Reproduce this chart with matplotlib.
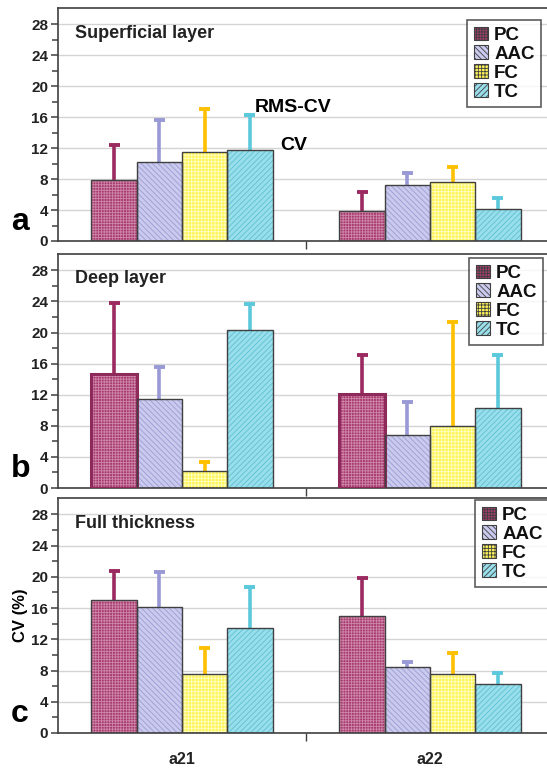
import numpy as np
import matplotlib.pyplot as plt
from matplotlib.patches import Patch
from matplotlib.ticker import FixedLocator

plt.rcParams['font.family'] = ['Liberation Sans', 'DejaVu Sans']
plt.rcParams['hatch.linewidth'] = 0.6

groups = ['a21', 'a22']
series = ['PC', 'AAC', 'FC', 'TC']

# mean CV per series, [a21, a22]
superficial_mean = {'PC': [7.9, 3.9], 'AAC': [10.2, 7.2], 'FC': [11.5, 7.6], 'TC': [11.7, 4.1]}
superficial_err = {'PC': [4.5, 2.4], 'AAC': [5.4, 1.6], 'FC': [5.5, 1.9], 'TC': [4.6, 1.4]}
deep_mean = {'PC': [14.7, 12.1], 'AAC': [11.4, 6.8], 'FC': [2.2, 8.0], 'TC': [20.3, 10.3]}
deep_err = {'PC': [9.1, 5.0], 'AAC': [4.2, 4.2], 'FC': [1.1, 13.3], 'TC': [3.4, 6.8]}
full_mean = {'PC': [17.0, 15.0], 'AAC': [16.2, 8.5], 'FC': [7.5, 7.6], 'TC': [13.4, 6.3]}
full_err = {'PC': [3.8, 4.9], 'AAC': [4.4, 0.6], 'FC': [3.4, 2.6], 'TC': [5.3, 1.4]}

panels = [
    ('a', 'Superficial layer', superficial_mean, superficial_err),
    ('b', 'Deep layer', deep_mean, deep_err),
    ('c', 'Full thickness', full_mean, full_err),
]

face = {'PC': '#A63C6E', 'AAC': '#CACAEE', 'FC': '#FFF45A', 'TC': '#98DFEB'}
hatch_col = {'PC': '#CF86AA', 'AAC': '#9C9CD4', 'FC': '#FFFFC4', 'TC': '#5EBFD6'}
hatches = {'PC': '++++++', 'AAC': '\\\\\\\\\\\\', 'FC': '+++++', 'TC': '//////'}
err_col = {'PC': '#9B2A60', 'AAC': '#9999D6', 'FC': '#FFC000', 'TC': '#5CC8DC'}
edge = '#404040'

W, H = 547, 769
fig = plt.figure(figsize=(W / 100, H / 100), dpi=100)

# axes boxes in pixels: (top, bottom)
boxes = [(8, 241), (254, 488), (498, 733)]
legend_boxes = [(467, 20), (469, 258), (475, 500)]
left_px = 58
unit_px = 248
x = np.arange(len(groups))
bw = 0.1825
cap = 0.022

for i, ((tag, title, means, errs), (top, bot)) in enumerate(zip(panels, boxes)):
    ax = fig.add_axes([left_px / W, 1 - bot / H, (W - left_px) / W, (bot - top) / H])
    ax.set_ylim(0, 30.1)
    ax.set_xlim(-0.5, (W - left_px) / unit_px - 0.5)
    ax.yaxis.set_major_locator(FixedLocator(np.arange(0, 29, 4)))
    ax.yaxis.set_minor_locator(FixedLocator(np.arange(0, 29, 2)))
    ax.grid(axis='y', color='#D4D4D4', linewidth=1)
    ax.set_axisbelow(True)
    for s in ['left', 'top', 'bottom']:
        ax.spines[s].set_color(edge)
        ax.spines[s].set_linewidth(1.2)
    ax.spines['right'].set_visible(False)
    ax.tick_params(axis='y', which='major', length=5, width=1.1, color=edge,
                   labelsize=11, pad=2)
    ax.tick_params(axis='y', which='minor', length=4, width=1.1, color=edge)
    for lab in ax.get_yticklabels():
        lab.set_fontweight('bold')
        lab.set_color('#222222')

    for k, s in enumerate(series):
        pos = x + (k - 1.5) * bw
        m = np.array(means[s])
        e = np.array(errs[s])
        lw = 2.2 if (tag == 'b' and s == 'PC') else 1.0
        ec = '#8E2A5A' if (tag == 'b' and s == 'PC') else edge
        ax.bar(pos, m, bw, color=face[s], edgecolor=hatch_col[s],
               hatch=hatches[s], linewidth=0, zorder=2)
        ax.bar(pos, m, bw, fill=False, edgecolor=ec, linewidth=lw, zorder=3)
        # upper error bar only
        ax.vlines(pos, m, m + e, color=err_col[s], linewidth=2.6, zorder=1.5)
        ax.hlines(m + e, pos - cap, pos + cap, color=err_col[s], linewidth=2.8,
                  zorder=1.5)

    ax.set_xticks([0.5], minor=True)
    ax.tick_params(axis='x', which='minor', length=6, width=1, color=edge)
    ax.set_xticks(x)
    if tag == 'c':
        ax.set_xticklabels(groups, fontsize=11.5, fontweight='bold', color='#222222')
        ax.tick_params(axis='x', which='major', length=0, pad=14)
        ax.set_ylabel('CV (%)', fontsize=12, fontweight='bold', labelpad=2)
    else:
        ax.set_xticklabels([])
        ax.tick_params(axis='x', which='major', length=0)

    ax.text(75 / W, 1 - (top + 25) / H, title, transform=fig.transFigure,
            fontsize=13, fontweight='bold', color='#222222', va='center')
    ax.text(11 / W, 1 - (bot - 19) / H, tag, transform=fig.transFigure,
            fontsize=23, fontweight='bold', color='black', va='center')

    handles = [Patch(facecolor=face[s], edgecolor=edge, hatch=hatches[s], linewidth=0.8)
               for s in series]
    lx, ly = legend_boxes[i]
    leg = ax.legend(handles, series, loc='upper left',
                    bbox_to_anchor=(lx / W, 1 - ly / H), bbox_transform=fig.transFigure,
                    fontsize=13.5, frameon=True, fancybox=False, edgecolor='#333333',
                    handlelength=0.75, handleheight=0.75, handletextpad=0.35,
                    labelspacing=0.08, borderpad=0.35, borderaxespad=0)
    leg.get_frame().set_linewidth(1.2)
    for t in leg.get_texts():
        t.set_fontweight('bold')
        t.set_color('#111111')

    if tag == 'a':
        ax.text(255 / W, 1 - 107 / H, 'RMS-CV', transform=fig.transFigure,
                fontsize=14, fontweight='bold', va='center')
        ax.text(280 / W, 1 - 145 / H, 'CV', transform=fig.transFigure,
                fontsize=14, fontweight='bold', va='center')

fig.savefig('out.png', dpi=100)
